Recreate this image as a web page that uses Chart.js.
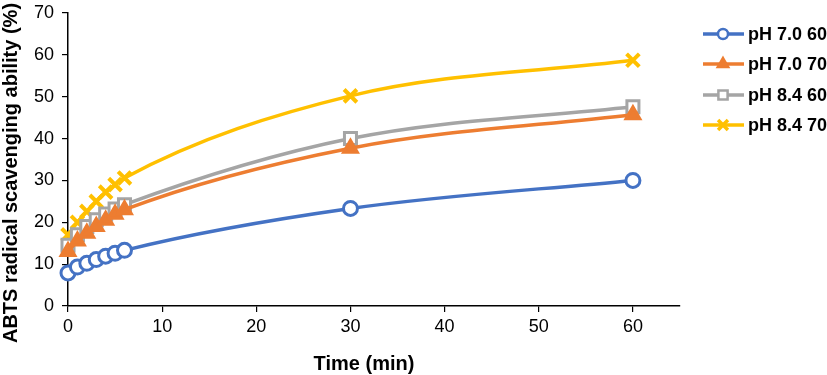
<!DOCTYPE html>
<html>
<head>
<meta charset="utf-8">
<script src="https://cdn.jsdelivr.net/npm/chart.js@4"></script>
<style>
  html, body { margin: 0; padding: 0; background: #fff; }
  #wrap { width: 827px; height: 375px; }
</style>
</head>
<body>
<div id="wrap"><canvas id="chartBase" width="827" height="375"></canvas></div>
<script>
// tiempos (min) y valores
const tiempos = [0, 1, 2, 3, 4, 5, 6, 30, 60];
const ph70_60 = [7.9, 9.3, 10.2, 11.1, 11.9, 12.6, 13.3, 23.3, 30.0];
const ph70_70 = [13.0, 15.5, 17.4, 19.0, 20.5, 21.9, 23.0, 37.7, 45.7];
const ph84_60 = [14.5, 17.0, 19.0, 20.6, 22.0, 23.2, 24.2, 40.0, 47.6];
const ph84_70 = [17.0, 20.0, 22.6, 25.0, 27.2, 29.0, 30.6, 50.2, 58.7];

const nombres = ["pH 7.0 60", "pH 7.0 70", "pH 8.4 60", "pH 8.4 70"];
const colores = ["#4472C4", "#ED7D31", "#A5A5A5", "#FFC000"];
const estilos = ["circle", "triangle", "rect", "crossRot"];
const yTicks = [0, 10, 20, 30, 40, 50, 60, 70];
const xTicks = [0, 10, 20, 30, 40, 50, 60];
const tituloX = "Time (min)";
const tituloY = "ABTS radical scavenging ability (%)";

function puntos(vals) {
  const out = [];
  for (let i = 0; i < tiempos.length; i++) out.push({ x: tiempos[i], y: vals[i] });
  return out;
}

function serie(i, vals) {
  const esCruz = estilos[i] === "crossRot";
  const esTri = estilos[i] === "triangle";
  const esRect = estilos[i] === "rect";
  return {
    label: nombres[i],
    data: puntos(vals),
    clip: false,
    borderColor: colores[i],
    backgroundColor: colores[i],
    borderWidth: 3.5,
    tension: 0.4,
    cubicInterpolationMode: "monotone",
    pointStyle: estilos[i],
    pointRadius: esCruz ? 9 : (esTri ? 8 : (esRect ? 8.5 : 7)),
    pointBorderWidth: esCruz ? 4 : 3,
    pointBackgroundColor: (esTri || esCruz) ? colores[i] : "#ffffff",
    pointBorderColor: colores[i]
  };
}

// leyenda a la derecha (línea con marcador) y títulos de ejes
const leyendaPlugin = {
  id: "leyendaExcel",
  afterDraw: function (chart) {
    const ctx = chart.ctx;
    const ys = [34, 64, 95, 125];
    ctx.save();
    for (let i = 0; i < nombres.length; i++) {
      const y = ys[i];
      const ds = chart.data.datasets[i];
      ctx.strokeStyle = colores[i];
      ctx.lineWidth = 3.5;
      ctx.beginPath();
      ctx.moveTo(703, y);
      ctx.lineTo(744, y);
      ctx.stroke();
      ctx.fillStyle = ds.pointBackgroundColor;
      ctx.strokeStyle = colores[i];
      ctx.lineWidth = ds.pointBorderWidth - 0.5;
      Chart.helpers.drawPoint(ctx, {
        pointStyle: estilos[i],
        radius: ds.pointRadius - 2,
        borderWidth: ds.pointBorderWidth - 0.5
      }, 723, y);
      ctx.fillStyle = "#000";
      ctx.font = "bold 18px 'Liberation Sans', Arial, sans-serif";
      ctx.textBaseline = "middle";
      ctx.textAlign = "left";
      ctx.fillText(nombres[i], 748, y + 1);
    }

    // títulos
    ctx.font = "bold 20px 'Liberation Sans', Arial, sans-serif";
    ctx.textAlign = "center";
    ctx.textBaseline = "middle";
    ctx.fillStyle = "#000";
    ctx.fillText(tituloX, 364, 364);

    ctx.translate(11, 173);
    ctx.rotate(-Math.PI / 2);
    ctx.fillText(tituloY, 0, 0);
    ctx.restore();
  }
};

const ctx = document.getElementById("chartBase").getContext("2d");
Chart.defaults.font.family = "'Liberation Sans', Arial, sans-serif";
Chart.defaults.color = "#000";

new Chart(ctx, {
  type: "line",
  data: {
    datasets: [
      serie(0, ph70_60),
      serie(1, ph70_70),
      serie(2, ph84_60),
      serie(3, ph84_70)
    ]
  },
  options: {
    responsive: false,
    animation: false,
    layout: { padding: { top: 12, right: 147, left: 0, bottom: 0 } },
    plugins: {
      legend: { display: false },
      tooltip: { enabled: false }
    },
    scales: {
      x: {
        type: "linear",
        min: 0,
        max: 65,
        afterBuildTicks: function (scale) {
          scale.ticks = xTicks.map(function (v) { return { value: v }; });
        },
        afterFit: function (scale) {
          scale.height = 69;
          scale.paddingLeft = 0;
          scale.paddingRight = 0;
        },
        grid: { drawOnChartArea: false, drawTicks: true, tickLength: 6, color: "#000", lineWidth: 1.2 },
        border: { color: "#000", width: 1.5 },
        ticks: { font: { size: 18 }, padding: 4, maxRotation: 0 }
      },
      y: {
        min: 0,
        max: 70,
        afterBuildTicks: function (scale) {
          scale.ticks = yTicks.map(function (v) { return { value: v }; });
        },
        afterFit: function (scale) {
          scale.width = 68;
          scale.paddingTop = 0;
          scale.paddingBottom = 0;
        },
        grid: { drawOnChartArea: false, drawTicks: true, tickLength: 6, color: "#000", lineWidth: 1.2 },
        border: { color: "#000", width: 1.5 },
        ticks: { font: { size: 18 }, padding: 8 }
      }
    }
  },
  plugins: [leyendaPlugin]
});
</script>
</body>
</html>
